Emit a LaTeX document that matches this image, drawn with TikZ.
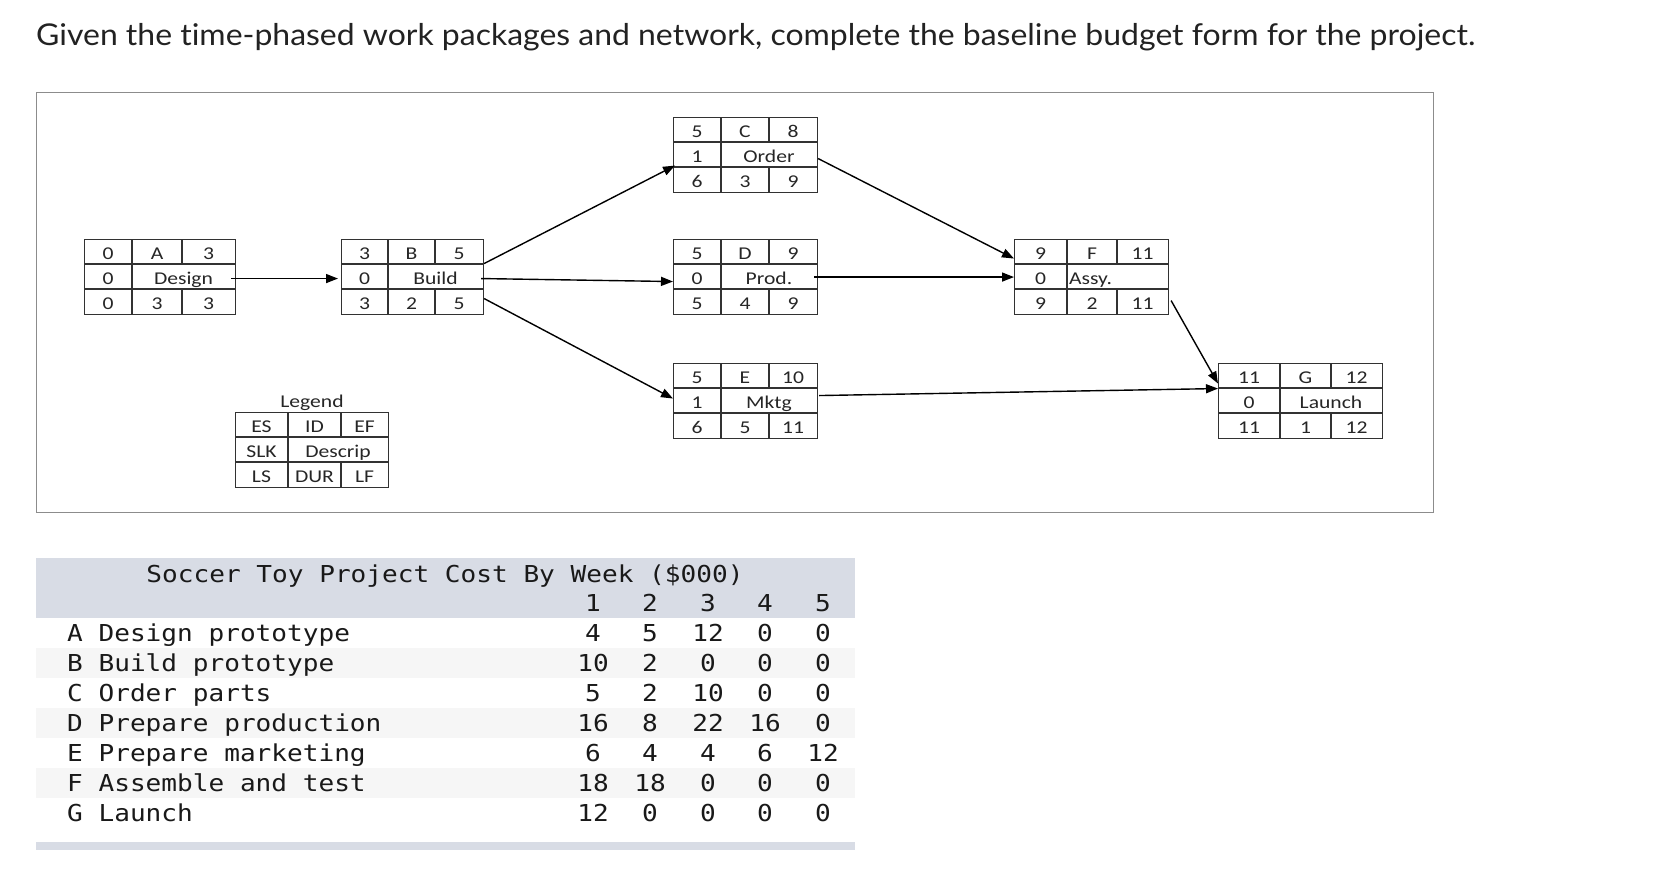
\documentclass[tikz,border=0pt]{standalone}
\usepackage{fontspec}
\usetikzlibrary{arrows.meta,calc}
\newfontfamily\titlefont[FakeStretch=1.065,Ligatures={NoCommon}]{Lato}
\newfontfamily\boxfont[FakeStretch=1.2]{Carlito}
\newfontfamily\monofont[FakeStretch=1.12]{DejaVu Sans Mono}
\definecolor{hdr}{RGB}{216,220,229}
\definecolor{stripe}{RGB}{246,246,246}
\definecolor{framegray}{RGB}{140,140,140}
\definecolor{ttl}{RGB}{34,34,34}
\definecolor{gridc}{RGB}{50,50,50}
\tikzset{
  abox/.style={draw=gridc, line width=1.1pt, minimum height=75pt, inner sep=0pt},
  gridl/.style={draw=gridc, line width=1.1pt},
  btxt/.style={font=\boxfont\fontsize{18pt}{20pt}\selectfont, anchor=base, inner sep=0pt, text=black!85},
  arr/.style={-{Triangle[length=12pt,width=9pt]}, line width=1.4pt, black},
  mono/.style={font=\monofont\fontsize{23.3pt}{26pt}\selectfont, inner sep=0pt, text=black!90},
}
\newcommand\mkbox[6]{%
  \pgfmathsetmacro\bw{#5-#2}%
  \node[abox, minimum width=\bw pt, anchor=north west] (#1) at (#2,#6) {};
  \draw[gridl] (#2,#6+25) -- (#5,#6+25) (#2,#6+50) -- (#5,#6+50)
    (#3,#6) -- (#3,#6+75) (#4,#6) -- (#4,#6+25) (#4,#6+50) -- (#4,#6+75);
  \xdef\bname{#1}\xdef\bxa{#2}\xdef\bxb{#3}\xdef\bxc{#4}\xdef\bxd{#5}\xdef\bya{#6}}
\newcommand\boxtext[8]{%
  \node[btxt] (\bname-es)  at ({(\bxa+\bxb)/2},{\bya+20.5}) {#1};
  \node[btxt] (\bname-id)  at ({(\bxb+\bxc)/2},{\bya+20.5}) {#2};
  \node[btxt] (\bname-ef)  at ({(\bxc+\bxd)/2},{\bya+20.5}) {#3};
  \node[btxt] (\bname-slk) at ({(\bxa+\bxb)/2},{\bya+45.5}) {#4};
  \node[btxt] (\bname-ds)  at ({(\bxb+\bxd)/2},{\bya+45.5}) {#5};
  \node[btxt] (\bname-ls)  at ({(\bxa+\bxb)/2},{\bya+70.5}) {#6};
  \node[btxt] (\bname-dur) at ({(\bxb+\bxc)/2},{\bya+70.5}) {#7};
  \node[btxt] (\bname-lf)  at ({(\bxc+\bxd)/2},{\bya+70.5}) {#8};}
\begin{document}
\begin{tikzpicture}[x=1pt,y=-1pt]
\useasboundingbox[fill=white] (0,0) rectangle (1658,878);
% title
\node[font=\titlefont\fontsize{30pt}{34pt}\selectfont, text=ttl, anchor=base west, inner sep=0pt] (title) at (36,45)
  {Given the time-phased work packages and network, complete the baseline budget form for the project.};
% frame
\node[draw=framegray, line width=1.4pt, minimum width=1397pt, minimum height=420pt, anchor=north west, inner sep=0pt] (frame) at (36,92) {};
% activity boxes
\mkbox{A}{84}{132}{182}{235}{239}
\boxtext{0}{A}{3}{0}{Design}{0}{3}{3}
\mkbox{B}{341}{388}{435}{483}{239}
\boxtext{3}{B}{5}{0}{Build}{3}{2}{5}
\mkbox{C}{673}{721}{769}{817}{117}
\boxtext{5}{C}{8}{1}{Order}{6}{3}{9}
\mkbox{D}{673}{721}{769}{817}{239}
\boxtext{5}{D}{9}{0}{Prod.}{5}{4}{9}
\mkbox{E}{673}{721}{769}{817}{363}
\boxtext{5}{E}{10}{1}{Mktg}{6}{5}{11}
\mkbox{F}{1014}{1067}{1117}{1168}{239}
\boxtext{9}{F}{11}{0}{}{9}{2}{11}
\node[btxt, anchor=base west] (F-assy) at (1069,284.5) {Assy.};
\mkbox{G}{1218}{1280}{1331}{1382}{363}
\boxtext{11}{G}{12}{0}{Launch}{11}{1}{12}
% legend
\node[btxt] (legendtitle) at (312,407.5) {Legend};
\mkbox{legend}{235}{288}{341}{388}{412}
\boxtext{ES}{ID}{EF}{SLK}{Descrip}{LS}{DUR}{LF}
% connectors
\draw[arr] ([xshift=-5pt,yshift=-1.5pt]A.east) -- ([xshift=-3pt,yshift=-1.5pt]B.west);
\draw[arr] ([yshift=13.5pt]B.east) -- ([xshift=2pt,yshift=-10.5pt]C.west);
\draw[arr] ([xshift=-3pt,yshift=-1.5pt]B.east) -- ([yshift=-4.5pt]D.west);
\draw[arr] ([yshift=-21.5pt]B.east) -- ([yshift=2.5pt]E.west);
\draw[arr] ([yshift=-3.5pt]C.east) -- ([yshift=18.5pt]F.west);
\draw[arr] ([xshift=-4pt]D.east) -- (F.west);
\draw[arr] ([xshift=1pt,yshift=5.5pt]E.east) -- ([yshift=12.5pt]G.west);
\draw[arr] ([xshift=2pt,yshift=-23.5pt]F.east) -- ([yshift=17.5pt]G.west);
% cost table
\fill[hdr] (36,558) rectangle (855,618);
\fill[stripe] (36,648) rectangle (855,678);
\fill[stripe] (36,708) rectangle (855,738);
\fill[stripe] (36,768) rectangle (855,798);
\fill[hdr] (36,842) rectangle (855,850);
\node[mono, anchor=base] (ttitle) at (445,582) {Soccer Toy Project Cost By Week (\$000)};
\foreach \w/\cx in {1/593,2/650,3/708,4/765,5/823}
  \node[mono, anchor=base] (wk\w) at (\cx,611) {\w};
\foreach \lbl/\a/\b/\c/\d/\e [count=\i] in {
  A Design prototype/4/5/12/0/0,
  B Build prototype/10/2/0/0/0,
  C Order parts/5/2/10/0/0,
  D Prepare production/16/8/22/16/0,
  E Prepare marketing/6/4/4/6/12,
  F Assemble and test/18/18/0/0/0,
  G Launch/12/0/0/0/0}{
  \node[mono, anchor=base west] (r\i) at (67,611+30*\i) {\lbl};
  \node[mono, anchor=base] (r\i c1) at (593,611+30*\i) {\a};
  \node[mono, anchor=base] (r\i c2) at (650,611+30*\i) {\b};
  \node[mono, anchor=base] (r\i c3) at (708,611+30*\i) {\c};
  \node[mono, anchor=base] (r\i c4) at (765,611+30*\i) {\d};
  \node[mono, anchor=base] (r\i c5) at (823,611+30*\i) {\e};
}
\end{tikzpicture}
\end{document}
